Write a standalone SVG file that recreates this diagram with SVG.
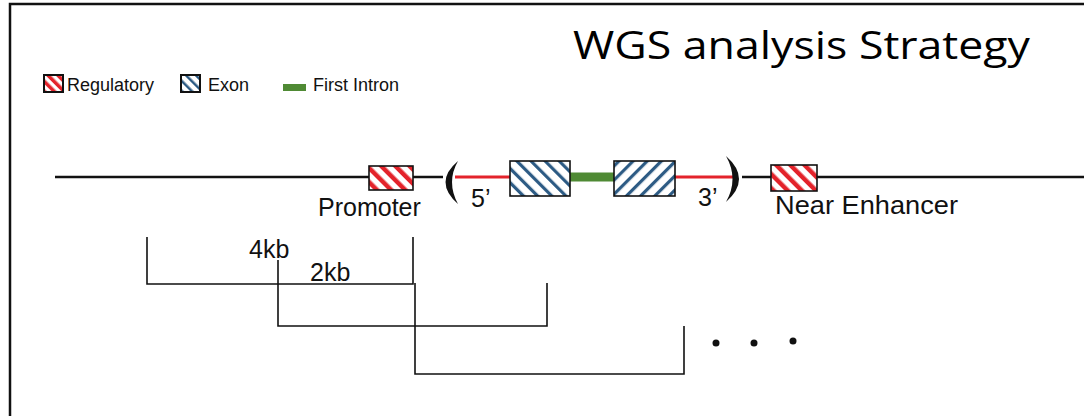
<svg xmlns="http://www.w3.org/2000/svg" width="1084" height="416" viewBox="0 0 1084 416">
<style>
.lbl{font-family:"Liberation Sans",Arial,sans-serif;fill:#111}
.leg{font-size:18px}
.big{font-size:25px}
.title{font-family:"Open Sans","Noto Sans",sans-serif;font-size:39px;fill:#000}
.br{fill:none;stroke:#111;stroke-width:1.6}
.box{stroke:#111;stroke-width:1.6}
</style>
<defs>
<pattern id="hr" patternUnits="userSpaceOnUse" width="10" height="10" patternTransform="rotate(-45)">
<rect width="10" height="10" fill="#fff"/><rect width="4.5" height="10" fill="#e3232b"/>
</pattern>
<pattern id="hbA" patternUnits="userSpaceOnUse" width="10" height="10" patternTransform="rotate(-45)">
<rect width="10" height="10" fill="#fff"/><rect width="3.2" height="10" fill="#2d5b84"/>
</pattern>
<pattern id="hbB" patternUnits="userSpaceOnUse" width="10" height="10" patternTransform="rotate(45)">
<rect width="10" height="10" fill="#fff"/><rect width="3.2" height="10" fill="#2d5b84"/>
</pattern>
<pattern id="hrL" patternUnits="userSpaceOnUse" width="7" height="7" patternTransform="rotate(-45)">
<rect width="7" height="7" fill="#fff"/><rect width="3.5" height="7" fill="#e3232b"/>
</pattern>
<pattern id="hbL" patternUnits="userSpaceOnUse" width="7" height="7" patternTransform="rotate(-45)">
<rect width="7" height="7" fill="#fff"/><rect width="2.5" height="7" fill="#2d5b84"/>
</pattern>
</defs>
<rect width="1084" height="416" fill="#fff"/>
<g id="frame" fill="none" stroke="#111" stroke-width="2.5">
<path d="M10,416 V4 H1084"/>
</g>
<text id="title" class="title" x="573" y="59" textLength="457" lengthAdjust="spacingAndGlyphs">WGS analysis Strategy</text>
<g id="legend">
<rect x="44" y="75" width="19" height="17" fill="url(#hrL)" stroke="#111" stroke-width="2"/>
<text class="lbl leg" x="67" y="91">Regulatory</text>
<rect x="181" y="75" width="19" height="17" fill="url(#hbL)" stroke="#111" stroke-width="2"/>
<text class="lbl leg" x="208" y="91">Exon</text>
<rect x="283" y="84" width="23" height="7" fill="#4f8a34"/>
<text class="lbl leg" x="313" y="91">First Intron</text>
</g>
<g id="connectors">
<line x1="55" y1="177" x2="443" y2="177" stroke="#111" stroke-width="2.5"/>
<line x1="742" y1="177" x2="1084" y2="177" stroke="#111" stroke-width="2.5"/>
<line x1="455" y1="177" x2="511" y2="177" stroke="#e3232b" stroke-width="3"/>
<line x1="675" y1="177" x2="733" y2="177" stroke="#e3232b" stroke-width="3"/>
<line x1="570" y1="177" x2="614" y2="177" stroke="#4f8a34" stroke-width="9"/>
</g>
<g id="promoter">
<rect class="box" x="369" y="166" width="44" height="24" fill="url(#hr)"/>
<text class="lbl big" x="318" y="216">Promoter</text>
</g>
<g id="paren-left">
<path d="M458,161 Q433,182 458,204 Q446,182 458,161 Z" fill="#111"/>
<text class="lbl big" x="471" y="207">5’</text>
</g>
<g id="exon1">
<rect class="box" x="510" y="161" width="60" height="35" fill="url(#hbA)"/>
</g>
<g id="exon2">
<rect class="box" x="614" y="161" width="61" height="35" fill="url(#hbB)"/>
</g>
<g id="paren-right">
<path d="M726,156 Q752,179 726,202 Q739,179 726,156 Z" fill="#111"/>
<text class="lbl big" x="698" y="206">3’</text>
</g>
<g id="enhancer">
<rect class="box" x="771" y="165" width="46" height="26" fill="url(#hr)"/>
<text class="lbl big" x="775" y="214" textLength="183" lengthAdjust="spacingAndGlyphs">Near Enhancer</text>
</g>
<g id="windows">
<path class="br" d="M147,237 V284 H413 V237"/>
<path class="br" d="M278,260 V326 H547 V283"/>
<path class="br" d="M415,283 V374 H684 V326"/>
<text class="lbl big" x="249" y="258">4kb</text>
<text class="lbl big" x="310" y="281">2kb</text>
<circle cx="716" cy="343" r="3.5" fill="#111"/>
<circle cx="754" cy="343" r="3.5" fill="#111"/>
<circle cx="793" cy="341" r="3.5" fill="#111"/>
</g>
</svg>
